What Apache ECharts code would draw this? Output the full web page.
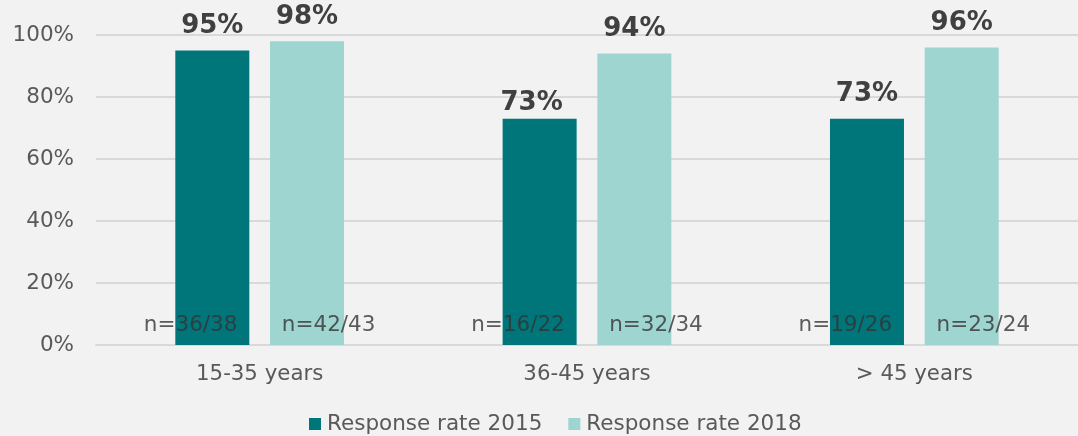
<!DOCTYPE html>
<html>
<head>
<meta charset="utf-8">
<script src="https://cdn.jsdelivr.net/npm/echarts@6/dist/echarts.min.js"></script>
<style>
  html, body { margin: 0; padding: 0; background: #f2f2f2; }
  #main { width: 1078px; height: 436px; }
</style>
</head>
<body>
<div id="main"></div>
<script>
var categories = ['15-35 years', '36-45 years', '> 45 years'];
var rate2015 = [95, 73, 73];
var rate2018 = [98, 94, 96];
var n2015 = ['n=36/38', 'n=16/22', 'n=19/26'];
var n2018 = ['n=42/43', 'n=32/34', 'n=23/24'];
var yTicks = [0, 20, 40, 60, 80, 100];

var font = '"DejaVu Sans", Verdana, sans-serif';
var chart = echarts.init(document.getElementById('main'));

function nSeries(labels, dx) {
  return {
    type: 'scatter',
    symbolSize: 0,
    silent: true,
    data: labels.map(function (t) { return { value: 0, name: t }; }),
    label: {
      show: true,
      position: 'inside',
      offset: [dx, -20],
      formatter: function (p) { return p.name; },
      color: '#333333',
      fontFamily: font,
      fontSize: 21.5
    },
    z: 5
  };
}

// the middle 2015 label sits lower, closer to its bar, in the original
var data2015 = rate2015.map(function (v, i) {
  return i === 1 ? { value: v, label: { offset: [-8, 9] } } : v;
});

var option = {
  backgroundColor: '#f2f2f2',
  animation: false,
  grid: { left: 96, right: 0, top: 35, bottom: 91 },
  legend: {
    bottom: -4,
    left: 304,
    itemWidth: 12,
    itemHeight: 12,
    itemGap: 26,
    icon: 'rect',
    data: ['Response rate 2015', 'Response rate 2018'],
    textStyle: { color: '#595959', fontFamily: font, fontSize: 21.5, padding: [0, 0, 0, 1] }
  },
  xAxis: {
    type: 'category',
    data: categories,
    axisLine: { show: true, lineStyle: { color: '#d9d9d9', width: 2 } },
    axisTick: { show: false },
    axisLabel: { color: '#595959', fontFamily: font, fontSize: 21.3, margin: 19 }
  },
  yAxis: {
    type: 'value',
    min: yTicks[0],
    max: yTicks[yTicks.length - 1],
    interval: 20,
    axisLine: { show: false },
    axisTick: { show: false },
    splitLine: { lineStyle: { color: '#d9d9d9', width: 2 } },
    axisLabel: { color: '#595959', fontFamily: font, fontSize: 21.5, margin: 22, formatter: '{value}%' }
  },
  series: [
    {
      name: 'Response rate 2015',
      type: 'bar',
      data: data2015,
      barWidth: 74,
      barGap: '28%',
      itemStyle: { color: '#00767a' },
      label: {
        show: true, position: 'top', distance: 11, formatter: '{c}%',
        color: '#404040', fontFamily: font, fontSize: 26, fontWeight: 'bold'
      }
    },
    {
      name: 'Response rate 2018',
      type: 'bar',
      data: rate2018,
      barWidth: 74,
      barGap: '28%',
      itemStyle: { color: '#9ed5d0' },
      label: {
        show: true, position: 'top', distance: 11, formatter: '{c}%',
        color: '#404040', fontFamily: font, fontSize: 26, fontWeight: 'bold'
      }
    },
    nSeries(n2015, -69),
    nSeries(n2018, 69)
  ]
};
chart.setOption(option);
</script>
</body>
</html>
